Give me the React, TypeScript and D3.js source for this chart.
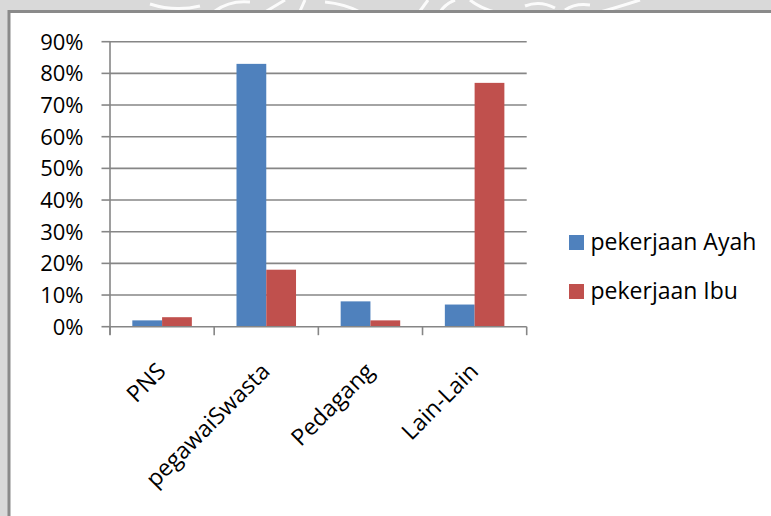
import React from 'react';
import * as d3 from 'd3';

const categories = ['PNS', 'pegawaiSwasta', 'Pedagang', 'Lain-Lain'];
const seriesNames = ['pekerjaan Ayah', 'pekerjaan Ibu'];
const ayahValues = [0.02, 0.83, 0.08, 0.07];
const ibuValues = [0.03, 0.18, 0.02, 0.77];
const yTicks = [0, 0.1, 0.2, 0.3, 0.4, 0.5, 0.6, 0.7, 0.8, 0.9];
const colors = ['#4f81bd', '#c0504d'];

const width = 771;
const height = 516;
const plot = { left: 110, right: 526.7, top: 41.7, bottom: 326.7 };
const font = '"Open Sans", "Liberation Sans", sans-serif';
const axisColor = '#868686';

export default function App() {
	React.useEffect(() => {
		document.body.style.margin = '0';
		document.body.style.overflow = 'hidden';
		document.documentElement.style.overflow = 'hidden';
	}, []);

	const x = d3
		.scaleBand<string>()
		.domain(categories)
		.range([plot.left, plot.right])
		.padding(0);

	const xInner = d3
		.scaleBand<string>()
		.domain(seriesNames)
		.range([0, x.bandwidth()])
		.paddingInner(0)
		.paddingOuter(0.75);

	const y = d3.scaleLinear().domain([0, 0.9]).range([plot.bottom, plot.top]);

	const series = [ayahValues, ibuValues];
	const fmt = d3.format('.0%');

	// boundaries between categories for the x axis tick marks
	const boundaries = categories.map((c) => x(c) as number).concat(plot.right);

	return (
		<svg
			width={width}
			height={height}
			style={{ position: 'absolute', left: 0, top: 0, display: 'block' }}
		>
			<rect x={0} y={0} width={width} height={height} fill="#d9d9d9" />
			{/* faint watermark bits on the grey strip */}
			<g stroke="#ffffff" strokeWidth={3} fill="none" opacity={0.9}>
				<path d="M150,4 Q175,12 200,6" />
				<path d="M215,11 Q230,0 250,2" />
				<path d="M265,12 L285,0" />
				<path d="M300,11 L305,0" />
				<path d="M325,2 Q345,4 360,12" />
				<path d="M420,11 L428,0" />
				<path d="M440,12 Q445,4 455,0" />
				<path d="M470,0 Q480,8 495,12" />
				<path d="M525,6 Q540,0 555,8" />
				<path d="M565,10 Q575,3 590,5" />
				<path d="M600,12 Q615,8 640,0" />
			</g>
			{/* chart area: open on the right and bottom */}
			<rect x={9} y={11.5} width={width} height={height} fill="#ffffff" />
			<path
				d={`M9,${height}V11.5H${width}`}
				fill="none"
				stroke="#8a8a8a"
				strokeWidth={3}
			/>

			{/* gridlines */}
			{yTicks
				.filter((t) => t > 0)
				.map((t) => (
					<line
						key={'g' + t}
						x1={plot.left}
						x2={plot.right}
						y1={y(t)}
						y2={y(t)}
						stroke={axisColor}
						strokeWidth={1.6}
					/>
				))}

			{/* bars */}
			{categories.map((c, i) => (
				<g key={c} transform={`translate(${x(c)},0)`}>
					{series.map((vals, s) => (
						<rect
							key={seriesNames[s]}
							x={xInner(seriesNames[s])}
							y={y(vals[i])}
							width={xInner.bandwidth()}
							height={y(0) - y(vals[i])}
							fill={colors[s]}
						/>
					))}
				</g>
			))}

			{/* y axis */}
			<line
				x1={plot.left}
				x2={plot.left}
				y1={plot.top}
				y2={plot.bottom + 8}
				stroke={axisColor}
				strokeWidth={1.6}
			/>
			{yTicks.map((t) => (
				<g key={'t' + t}>
					<line
						x1={plot.left - 8.5}
						x2={plot.left}
						y1={y(t)}
						y2={y(t)}
						stroke={axisColor}
						strokeWidth={1.6}
					/>
					<text
						x={83.5}
						y={y(t) + 7.8}
						textAnchor="end"
						fontFamily={font}
						fontSize={22}
						fill="#000"
					>
						{fmt(t)}
					</text>
				</g>
			))}

			{/* x axis */}
			<line
				x1={plot.left}
				x2={plot.right}
				y1={plot.bottom}
				y2={plot.bottom}
				stroke={axisColor}
				strokeWidth={1.6}
			/>
			{boundaries.map((b, i) => (
				<line
					key={'b' + i}
					x1={b}
					x2={b}
					y1={plot.bottom}
					y2={plot.bottom + 8.5}
					stroke={axisColor}
					strokeWidth={1.6}
				/>
			))}
			{categories.map((c) => {
				const cx = (x(c) as number) + x.bandwidth() / 2 + 5;
				const cy = plot.bottom + 46;
				return (
					<text
						key={'l' + c}
						transform={`translate(${cx},${cy}) rotate(-45)`}
						textAnchor="end"
						fontFamily={font}
						fontSize={23}
						fill="#000"
					>
						{c}
					</text>
				);
			})}

			{/* legend */}
			{seriesNames.map((name, s) => (
				<g key={'leg' + name} transform={`translate(569,${235 + s * 49})`}>
					<rect x={0} y={0} width={15} height={15} fill={colors[s]} />
					<text x={21.5} y={15} fontFamily={font} fontSize={23} fill="#000">
						{name}
					</text>
				</g>
			))}
		</svg>
	);
}
